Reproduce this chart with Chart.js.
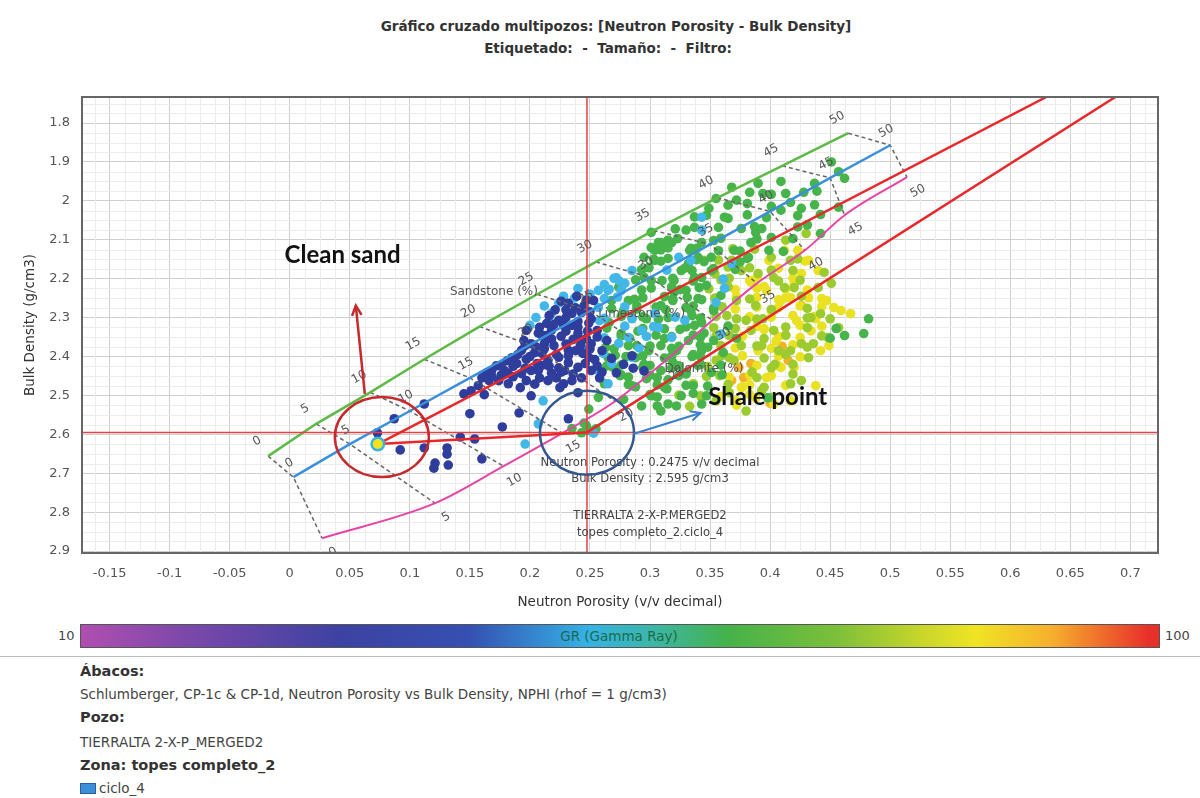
<!DOCTYPE html>
<html>
<head>
<meta charset="utf-8">
<script src="https://cdn.jsdelivr.net/npm/chart.js@4.4.1/dist/chart.umd.min.js"></script>
<style>
  body { margin: 0; background: #fff; width: 1200px; height: 798px; overflow: hidden; position: relative; font-family: "DejaVu Sans", sans-serif; color: #333; }
  #chart { position: absolute; left: 0; top: 0; }
  .t { position: absolute; white-space: nowrap; }
  .title { font-size: 13.5px; font-weight: bold; color: #333; transform: translateX(-50%); }
  #cbar { position: absolute; left: 80px; top: 624px; width: 1078px; height: 22px; border: 1px solid #555;
    background: linear-gradient(to right, #b04fb0 0%, #7a48aa 10%, #3d42a2 24%, #3550b2 36%, #35b2e6 47%, #3cb6a8 53%, #45b24a 60%, #7cbf3a 70%, #c8d62a 78%, #f0e424 83%, #f6b02e 90%, #e8302a 99%); }
  .foot { left: 80px; font-size: 13.5px; color: #444; }
  .foot.b { font-weight: bold; font-size: 14.5px; color: #333; }
</style>
</head>
<body>
<div class="t title" style="left:616px; top:18px;">Gráfico cruzado multipozos: [Neutron Porosity - Bulk Density]</div>
<div class="t title" style="left:608px; top:40px;">Etiquetado: &nbsp;- &nbsp;Tamaño: &nbsp;- &nbsp;Filtro:</div>
<canvas id="chart" width="1200" height="620"></canvas>
<div class="t" style="left:58px; top:628px; font-size:13px; color:#444;">10</div>
<div id="cbar"></div>
<div class="t" style="left:619px; top:628px; font-size:13.5px; color:#1d6b4a; transform:translateX(-50%);">GR (Gamma Ray)</div>
<div class="t" style="left:1165px; top:628px; font-size:13px; color:#444;">100</div>
<div style="position:absolute; left:0; top:656px; width:1200px; height:1px; background:#bbb;"></div>
<div class="t foot b" style="top:663px;">Ábacos:</div>
<div class="t foot" style="top:686px;">Schlumberger, CP-1c &amp; CP-1d, Neutron Porosity vs Bulk Density, NPHI (rhof = 1 g/cm3)</div>
<div class="t foot b" style="top:709px;">Pozo:</div>
<div class="t foot" style="top:734px;">TIERRALTA 2-X-P_MERGED2</div>
<div class="t foot b" style="top:757px;">Zona: topes completo_2</div>
<div style="position:absolute; left:80px; top:783px; width:14px; height:9px; background:#3a8fd8; border:1px solid #2a5f9a;"></div>
<div class="t foot" style="left:99px; top:780px;">ciclo_4</div>

<script>
// axes
const X_MIN = -0.173, X_MAX = 0.723;
const Y_MIN = 1.733, Y_MAX = 2.905;
const X_TICKS = [-0.15, -0.1, -0.05, 0, 0.05, 0.1, 0.15, 0.2, 0.25, 0.3, 0.35, 0.4, 0.45, 0.5, 0.55, 0.6, 0.65, 0.7];
const Y_TICKS = [1.8, 1.9, 2, 2.1, 2.2, 2.3, 2.4, 2.5, 2.6, 2.7, 2.8, 2.9];

// chart lines (porosity 0..50 %)
const POR_LABELS = [0, 5, 10, 15, 20, 25, 30, 35, 40, 45, 50];
const SS_NPHI = [-0.018, 0.022, 0.067, 0.112, 0.158, 0.206, 0.255, 0.303, 0.356, 0.410, 0.465];
const SS_RHOB = [2.656, 2.573, 2.492, 2.407, 2.323, 2.240, 2.157, 2.076, 1.992, 1.910, 1.826];
const LS_NPHI = [0.003, 0.05, 0.10, 0.15, 0.20, 0.25, 0.30, 0.35, 0.40, 0.45, 0.50];
const LS_RHOB = [2.710, 2.625, 2.540, 2.455, 2.370, 2.283, 2.197, 2.112, 2.027, 1.941, 1.857];
const DOL_NPHI = [0.027, 0.121, 0.178, 0.227, 0.271, 0.313, 0.352, 0.389, 0.429, 0.462, 0.514];
const DOL_RHOB = [2.867, 2.777, 2.682, 2.597, 2.515, 2.410, 2.307, 2.212, 2.127, 2.037, 1.939];

// crossplot cursor, clean sand, shale lines
const CURSOR_NPHI = 0.2475, CURSOR_RHOB = 2.595;
const CLEAN_NPHI = 0.0733, CLEAN_RHOB = 2.625;
const SHALE_LINE_A_X = [0.0733, 0.630];
const SHALE_LINE_A_Y = [2.625, 1.733];
const SHALE_LINE_B_X = [0.2475, 0.6875];
const SHALE_LINE_B_Y = [2.595, 1.733];
const CLEAN_SHALE_X = [0.0733, 0.2475];
const CLEAN_SHALE_Y = [2.625, 2.595];

// samples grouped by GR colour
const DARK_X = [0.112,0.087,0.092,0.112,0.131,0.131,0.121,0.120,0.132,0.145,0.162,0.157,0.150,0.177,0.142,0.154,0.160,0.191,0.201,0.232,0.225,0.240,0.073,
  0.160,0.168,0.166,0.182,0.185,0.193,0.201,0.212,0.207,0.218,0.224,0.235,0.232,0.240,0.243,0.232,0.224,0.215,0.207,0.218,
  0.229,0.240,0.249,0.251,0.249,0.221,0.201,0.193,0.179,0.174,0.204,0.215,0.235,0.243,0.189,0.197,0.210,0.226,0.236,0.214,
  0.226,0.239,0.245,0.251,0.256,0.260,0.256,0.197,0.264,0.272,0.285,0.295,
  0.181,0.195,0.204,0.214,0.220,0.228,0.238,0.247,0.235,0.243,0.253,0.210,0.224,0.232,0.251,0.172,0.164,0.151,
  0.186,0.196,0.206,0.216,0.226,0.236,0.246,0.176,0.186,0.197,0.208,0.222,0.228,0.190,0.200,0.212,0.222,0.232,0.244,0.254,
  0.205,0.196,0.218,0.230,0.242,0.250,0.210,0.220,0.230,0.240,0.248,0.256,0.230,0.240,0.250,0.216,0.208,0.238,0.247,0.230,
  0.176,0.168,0.182,0.192,0.260,0.258,0.268,0.278,0.286];
const DARK_Y = [2.522,2.560,2.640,2.635,2.635,2.651,2.674,2.687,2.679,2.496,2.498,2.475,2.547,2.581,2.607,2.612,2.663,2.545,2.501,2.560,2.480,2.493,2.596,
  2.455,2.437,2.462,2.444,2.403,2.384,2.367,2.367,2.340,2.332,2.307,2.289,2.263,2.325,2.358,2.384,2.402,2.410,2.436,2.443,
  2.436,2.428,2.402,2.367,2.314,2.280,2.436,2.444,2.437,2.462,2.471,2.462,2.462,2.455,2.418,2.407,2.392,2.348,2.356,2.315,
  2.258,2.245,2.270,2.303,2.333,2.385,2.424,2.333,2.359,2.442,2.398,2.437,
  2.411,2.359,2.390,2.346,2.372,2.320,2.385,2.354,2.320,2.287,2.256,2.423,2.429,2.416,2.436,2.424,2.442,2.488,
  2.425,2.430,2.418,2.425,2.440,2.445,2.418,2.448,2.452,2.462,2.455,2.455,2.470,2.395,2.400,2.380,2.395,2.398,2.392,2.408,
  2.375,2.372,2.355,2.368,2.372,2.380,2.345,2.318,2.335,2.340,2.335,2.350,2.300,2.310,2.285,2.295,2.325,2.275,2.255,2.280,
  2.425,2.450,2.470,2.480,2.440,2.455,2.405,2.420,2.430];

const CYAN_X = [0.207,0.196,0.211,0.218,0.224,0.237,0.257,0.270,0.279,0.257,0.216,0.261,0.268,0.274,0.282,0.293,0.307,0.318,0.329,0.285,
  0.265,0.304,0.343,0.343,0.334,0.324,0.285,0.274,0.265,0.276,0.257,0.247,0.258,0.361,0.362,0.355,0.368,0.359,0.253,
  0.272,0.266,0.262,0.273,0.279,0.262,0.285,0.321,0.279,0.303,0.262,0.297,0.291,0.314,0.205,0.212,0.228,0.240,0.250,0.262,0.200];
const CYAN_Y = [2.573,2.625,2.514,2.289,2.263,2.250,2.230,2.199,2.212,2.274,2.307,2.392,2.418,2.366,2.351,2.333,2.325,2.351,2.307,2.402,
  2.470,2.289,2.042,2.075,2.153,2.145,2.179,2.205,2.230,2.230,2.436,2.372,2.308,2.201,2.225,2.261,2.161,2.342,2.597,
  2.198,2.227,2.251,2.247,2.272,2.302,2.303,2.299,2.322,2.323,2.352,2.348,2.378,2.178,2.300,2.270,2.245,2.225,2.240,2.215,2.320];

const GREEN_X = [0.301,0.307,0.304,0.295,0.315,0.299,0.320,0.334,0.343,0.274,0.282,0.301,0.368,0.372,0.390,0.394,0.355,0.349,0.413,0.428,
  0.417,0.426,0.409,0.451,0.462,0.457,0.362,0.376,0.388,0.401,0.384,0.370,0.382,0.399,0.442,0.330,0.365,0.357,0.318,0.309,
  0.301,0.304,0.340,0.351,0.332,0.326,0.337,0.351,0.268,0.278,0.289,0.297,0.309,0.319,0.330,0.340,0.347,0.334,0.343,0.353,
  0.359,0.266,0.276,0.289,0.299,0.309,0.322,0.332,0.343,0.353,0.361,0.264,0.275,0.285,0.297,0.309,0.319,0.330,0.340,0.351,
  0.301,0.314,0.326,0.336,0.347,0.293,0.309,0.322,0.343,0.235,0.245,0.249,0.249,0.243,0.255,0.247,0.398,0.482,0.478,0.462,
  0.285,0.315,0.325,0.305,0.280,0.295,0.335,0.290,0.270,0.315,0.262,0.278,0.257,0.320,0.345,
  0.288,0.295,0.310,0.319,0.336,0.343,
  0.276,0.293,0.301,0.318,0.325,0.341,
  0.287,0.294,0.312,0.319,0.331,0.343,
  0.268,0.289,0.305,0.313,0.330,0.336,0.353,
  0.276,0.294,0.307,0.335,0.342,
  0.264,0.294,0.312,0.330,0.337,0.365,0.455,
  0.276,0.283,0.312,0.318,0.336,0.342,0.372,0.450,
  0.263,0.282,0.300,0.318,0.324,0.342,0.348,
  0.265,0.271,0.288,0.294,0.312,0.318,0.336,0.342,
  0.269,0.276,0.294,0.300,0.318,0.324,0.342,0.359,
  0.276,0.282,0.300,0.306,0.324,0.330,0.360,
  0.282,0.288,0.306,0.312,0.330,0.348,
  0.300,0.306,0.336,
  0.306,0.315,
  0.293,0.299,0.329,0.335,0.353,0.371,
  0.303,0.309,0.339,0.345,0.375,0.381,
  0.309,0.315,0.333,0.339,0.357,0.375,0.411,
  0.315,0.323,0.353,0.359,0.389,0.419,
  0.321,0.337,0.387,0.393,0.423,0.431,
  0.337,0.347,0.381,0.397,0.423,0.442,
  0.365,0.381,0.401,0.437,
  0.383,0.401,0.439,
  0.409,0.437,0.457];
const GREEN_Y = [2.081,2.107,2.127,2.145,2.148,2.171,2.205,2.122,2.107,2.222,2.256,2.205,1.965,1.998,1.955,1.981,1.994,2.019,1.981,1.978,
  2.004,2.019,2.024,1.900,1.942,2.016,2.042,2.071,2.081,2.094,2.107,2.127,2.145,2.127,2.084,2.075,2.045,2.068,2.107,2.107,
  2.120,2.153,2.145,2.145,2.161,2.179,2.197,2.179,2.256,2.282,2.269,2.303,2.269,2.256,2.230,2.251,2.217,2.282,2.313,2.282,
  2.243,2.313,2.341,2.372,2.385,2.372,2.385,2.359,2.385,2.359,2.390,2.424,2.449,2.475,2.457,2.436,2.415,2.441,2.423,2.441,
  2.501,2.483,2.501,2.475,2.501,2.527,2.540,2.527,2.522,2.585,2.571,2.535,2.590,2.596,2.586,2.578,2.506,2.303,2.341,2.346,
  2.300,2.300,2.330,2.345,2.400,2.420,2.400,2.335,2.380,2.460,2.470,2.510,2.505,2.235,2.340,
  2.203,2.196,2.205,2.199,2.206,2.197,
  2.222,2.229,2.224,2.221,2.228,2.223,
  2.253,2.249,2.246,2.252,2.248,2.254,
  2.277,2.278,2.273,2.279,2.274,2.270,2.276,
  2.297,2.298,2.304,2.295,2.301,
  2.327,2.328,2.329,2.324,2.320,2.322,2.328,
  2.347,2.353,2.354,2.349,2.345,2.351,2.353,2.353,
  2.377,2.372,2.373,2.379,2.374,2.370,2.376,
  2.402,2.397,2.403,2.398,2.404,2.399,2.395,2.401,
  2.427,2.422,2.428,2.423,2.429,2.424,2.420,2.422,
  2.447,2.453,2.448,2.454,2.449,2.445,2.447,
  2.472,2.478,2.473,2.479,2.474,2.476,
  2.498,2.504,2.495,
  2.527,2.522,
  2.177,2.172,2.173,2.179,2.174,2.176,
  2.150,2.155,2.151,2.156,2.157,2.148,
  2.126,2.121,2.127,2.122,2.128,2.129,2.130,
  2.101,2.097,2.102,2.096,2.098,2.097,
  2.072,2.068,2.066,2.071,2.067,2.062,
  2.041,2.037,2.036,2.043,2.038,2.035,
  2.011,2.007,2.014,2.010,
  1.978,1.983,1.975,
  1.950,1.955,1.925];

const LIME_X = [0.430,0.401,0.417,0.403,0.390,0.376,0.368,0.354,0.345,0.412,0.440,0.451,0.445,0.442,0.434,0.457,0.448,0.436,0.426,0.407,
  0.417,0.432,0.404,0.426,0.417,0.393,0.364,0.372,0.380,0.388,0.366,0.376,0.384,0.394,0.403,0.393,0.358,0.366,0.380,0.355,
  0.370,0.385,0.355,
  0.359,0.366,0.407,0.425,0.349,0.365,0.420,0.354,0.383,0.426,0.360,0.401,0.431,0.355,0.372,0.389,0.431,0.450,0.353,0.371,
  0.413,0.431,0.355,0.395,0.413,0.443,0.359,0.389,0.431,0.360,0.366,0.395,0.413,0.348,0.401,0.419,0.347,0.389,0.419,0.336,
  0.365,0.395,0.324,0.342,0.401,0.333,0.365,0.383,0.401,0.419,0.357,0.423,0.369,0.387,0.413];
const LIME_Y = [2.084,2.145,2.153,2.197,2.187,2.179,2.153,2.187,2.153,2.223,2.223,2.212,2.184,2.290,2.300,2.326,2.351,2.367,2.367,2.385,
  2.385,2.403,2.420,2.462,2.470,2.488,2.295,2.256,2.307,2.269,2.346,2.372,2.333,2.303,2.333,2.372,2.449,2.493,2.540,2.514,
  2.410,2.440,2.410,
  2.203,2.199,2.206,2.204,2.226,2.221,2.223,2.250,2.252,2.245,2.272,2.279,2.276,2.297,2.303,2.304,2.301,2.303,2.326,2.328,
  2.324,2.326,2.347,2.354,2.345,2.347,2.372,2.373,2.376,2.397,2.403,2.404,2.395,2.426,2.429,2.420,2.451,2.454,2.445,2.470,
  2.472,2.479,2.499,2.501,2.505,2.528,2.170,2.172,2.178,2.179,2.152,2.149,2.123,2.124,2.101];

const YELLOW_X = [0.423,0.412,0.426,0.432,0.440,0.453,0.467,0.432,0.417,0.390,0.420,0.409,0.422,0.434,0.397,0.384,0.401,0.442,0.413,0.376,
  0.388,0.397,0.409,0.372,0.417,0.438,0.447,0.459,0.438,0.405,0.395,0.420,
  0.383,0.389,0.419,0.371,0.389,0.395,0.413,0.431,0.372,0.389,0.407,0.413,0.443,0.371,0.389,0.407,0.425,0.443,0.383,0.401,
  0.419,0.437,0.389,0.395,0.425,0.443,0.377,0.407,0.425,0.371,0.401,0.419,0.449,0.377,0.407,0.425,0.389,0.407,0.366,0.383,
  0.401,0.377,0.383,0.413,0.359,0.383,0.372,0.403,0.407,0.399,0.429];
const YELLOW_Y = [2.127,2.127,2.187,2.153,2.179,2.274,2.290,2.249,2.249,2.385,2.428,2.256,2.308,2.334,2.230,2.209,2.282,2.385,2.346,2.480,
  2.506,2.454,2.428,2.514,2.514,2.475,2.256,2.282,2.303,2.360,2.330,2.215,
  2.205,2.197,2.199,2.228,2.224,2.220,2.227,2.229,2.246,2.248,2.254,2.249,2.251,2.278,2.273,2.274,2.270,2.272,2.298,2.299,
  2.295,2.297,2.323,2.329,2.320,2.322,2.348,2.349,2.351,2.378,2.379,2.370,2.372,2.398,2.399,2.401,2.423,2.424,2.453,2.448,
  2.449,2.478,2.473,2.474,2.503,2.498,2.525,2.522,2.173,2.153,2.155];

const ORANGE_X = [0.415, 0.384, 0.378, 0.368, 0.426, 0.400, 0.410, 0.374];
const ORANGE_Y = [2.410, 2.418, 2.454, 2.462, 2.269, 2.520, 2.374, 2.428];

const pts = (xs, ys) => xs.map((x, i) => ({ x, y: ys[i] }));

function scatterSet(xs, ys, color) {
  return { data: pts(xs, ys), backgroundColor: color, borderWidth: 0, pointRadius: 4.8, order: 20 };
}
function lineSet(xs, ys, color, width, order, extra) {
  return Object.assign({ data: pts(xs, ys), showLine: true, borderColor: color, borderWidth: width,
    pointRadius: 0, fill: false, order }, extra || {});
}

const datasets = [
  scatterSet(DARK_X, DARK_Y, "#2f3d9c"),
  scatterSet(CYAN_X, CYAN_Y, "#43b7e8"),
  scatterSet(GREEN_X, GREEN_Y, "#46b34b"),
  scatterSet(LIME_X, LIME_Y, "#9ccb30"),
  scatterSet(YELLOW_X, YELLOW_Y, "#e9e122"),
  scatterSet(ORANGE_X, ORANGE_Y, "#f2b128"),
  lineSet(SS_NPHI, SS_RHOB, "#5cba46", 2.5, 5),
  lineSet(LS_NPHI, LS_RHOB, "#3a90da", 2.5, 5),
  lineSet(DOL_NPHI, DOL_RHOB, "#e645a6", 2, 5, { cubicInterpolationMode: "monotone" }),
  lineSet([X_MIN, X_MAX], [CURSOR_RHOB, CURSOR_RHOB], "#ea4040", 1.5, 4),
  lineSet([CURSOR_NPHI, CURSOR_NPHI], [Y_MIN, Y_MAX], "#ea4040", 1.5, 4),
  lineSet(SHALE_LINE_A_X, SHALE_LINE_A_Y, "#e8282a", 2.5, 3),
  lineSet(SHALE_LINE_B_X, SHALE_LINE_B_Y, "#e8282a", 2.5, 3),
  lineSet(CLEAN_SHALE_X, CLEAN_SHALE_Y, "#e8282a", 2.5, 3),
  { data: [{ x: CLEAN_NPHI, y: CLEAN_RHOB }], backgroundColor: "#37b4e6", pointRadius: 7.5, borderWidth: 0, order: 1 },
  { data: [{ x: CLEAN_NPHI, y: CLEAN_RHOB }], backgroundColor: "#f2e21c", pointRadius: 5, borderWidth: 0, order: 0 },
  { data: [{ x: CLEAN_NPHI, y: CLEAN_RHOB }], backgroundColor: "#e8402a", pointRadius: 2.2, borderWidth: 0, order: 0 },
];

// dashed porosity iso-lines: sandstone -> limestone -> dolomite
POR_LABELS.forEach((p, i) => {
  datasets.push(lineSet([SS_NPHI[i], LS_NPHI[i], DOL_NPHI[i]], [SS_RHOB[i], LS_RHOB[i], DOL_RHOB[i]],
    "#666", 1.5, 6, { borderDash: [4, 3] }));
});

function rotText(ctx, text, x, y, ang) {
  ctx.save();
  ctx.translate(x, y);
  ctx.rotate(ang);
  ctx.fillText(text, 0, 0);
  ctx.restore();
}

function arrow(ctx, x1, y1, x2, y2, color, w) {
  ctx.strokeStyle = color;
  ctx.lineWidth = w;
  ctx.beginPath();
  ctx.moveTo(x1, y1);
  ctx.lineTo(x2, y2);
  ctx.stroke();
  const a = Math.atan2(y2 - y1, x2 - x1), h = 11;
  ctx.beginPath();
  ctx.moveTo(x2 - h * Math.cos(a - 0.45), y2 - h * Math.sin(a - 0.45));
  ctx.lineTo(x2, y2);
  ctx.lineTo(x2 - h * Math.cos(a + 0.45), y2 - h * Math.sin(a + 0.45));
  ctx.stroke();
}

const overlay = {
  id: "overlay",
  beforeDatasetsDraw(chart) {
    const { ctx, chartArea: a, scales: { x, y } } = chart;
    ctx.save();
    ctx.strokeStyle = "#ececec";
    ctx.lineWidth = 1;
    for (let k = -0.175; k <= X_MAX; k += 0.0125) {
      if (Math.abs(k / 0.05 - Math.round(k / 0.05)) < 1e-6) continue;
      const px = Math.round(x.getPixelForValue(k)) + 0.5;
      if (px <= a.left || px >= a.right) continue;
      ctx.beginPath(); ctx.moveTo(px, a.top); ctx.lineTo(px, a.bottom); ctx.stroke();
    }
    for (let k = 1.725; k <= Y_MAX; k += 0.025) {
      if (Math.abs(k / 0.1 - Math.round(k / 0.1)) < 1e-6) continue;
      const py = Math.round(y.getPixelForValue(k)) + 0.5;
      if (py <= a.top || py >= a.bottom) continue;
      ctx.beginPath(); ctx.moveTo(a.left, py); ctx.lineTo(a.right, py); ctx.stroke();
    }
    ctx.restore();
  },
  afterDatasetsDraw(chart) {
    const { ctx, chartArea: a, scales: { x, y } } = chart;
    const X = (v) => x.getPixelForValue(v);
    const Y = (v) => y.getPixelForValue(v);
    ctx.save();
    ctx.beginPath();
    ctx.rect(a.left, a.top, a.right - a.left, a.bottom - a.top);
    ctx.clip();

    // porosity labels
    ctx.font = '12px "DejaVu Sans"';
    ctx.fillStyle = "#555";
    ctx.textAlign = "center";
    ctx.textBaseline = "middle";
    const ang = -0.5;
    POR_LABELS.forEach((p, i) => {
      rotText(ctx, String(p), X(SS_NPHI[i]) - 11, Y(SS_RHOB[i]) - 15, ang);
      rotText(ctx, String(p), X(LS_NPHI[i]) - 4, Y(LS_RHOB[i]) - 14, ang);
      rotText(ctx, String(p), X(DOL_NPHI[i]) + 11, Y(DOL_RHOB[i]) + 14, ang);
    });
    ctx.fillText("Sandstone (%)", X(0.170), Y(2.233));
    ctx.fillText("Limestone (%)", X(0.293), Y(2.290));
    ctx.fillText("Dolomite (%)", X(0.345), Y(2.431));

    // cursor readout
    ctx.fillStyle = "#444";
    ctx.font = '11.6px "DejaVu Sans"';
    ctx.fillText("Neutron Porosity : 0.2475 v/v decimal", X(0.300), Y(2.674));
    ctx.fillText("Bulk Density : 2.595 g/cm3", X(0.300), Y(2.715));
    ctx.fillText("TIERRALTA 2-X-P.MERGED2", X(0.300), Y(2.810));
    ctx.fillText("topes completo_2.ciclo_4", X(0.300), Y(2.854));

    // annotations
    ctx.lineWidth = 2.5;
    ctx.strokeStyle = "#c62a2c";
    ctx.beginPath();
    ctx.ellipse(X(0.0767), Y(2.607), 47, 40, 0, 0, Math.PI * 2);
    ctx.stroke();
    ctx.strokeStyle = "#35568f";
    ctx.beginPath();
    ctx.ellipse(X(0.2475), Y(2.596), 47, 42, 0, 0, Math.PI * 2);
    ctx.stroke();
    arrow(ctx, X(0.0625), Y(2.496), X(0.055), Y(2.269), "#c62a2c", 2.5);
    arrow(ctx, X(0.286), Y(2.599), X(0.342), Y(2.545), "#3a7fd0", 2);

    ctx.fillStyle = "#111";
    ctx.font = 'bold 24px Lato, "Open Sans", sans-serif';
    ctx.fillText("Clean sand", X(0.044), Y(2.14));
    ctx.fillText("Shale point", X(0.398), Y(2.506));
    ctx.restore();

    // plot frame
    ctx.save();
    ctx.strokeStyle = "#666";
    ctx.lineWidth = 2;
    ctx.strokeRect(a.left, a.top, a.right - a.left, a.bottom - a.top);
    ctx.restore();
  },
};

const tickFont = { family: "DejaVu Sans", size: 13 };
const titleFont = { family: "DejaVu Sans", size: 13.5 };

new Chart(document.getElementById("chart"), {
  type: "scatter",
  data: { datasets },
  options: {
    responsive: false,
    animation: false,
    layout: { padding: { top: 97, right: 42, left: 0, bottom: 0 } },
    plugins: { legend: { display: false }, tooltip: { enabled: false } },
    scales: {
      x: {
        type: "linear",
        min: X_MIN,
        max: X_MAX,
        afterFit: (s) => { s.height = 67; },
        afterBuildTicks: (s) => { s.ticks = X_TICKS.map((v) => ({ value: v })); },
        ticks: { autoSkip: false, maxRotation: 0, padding: 13, color: "#555", font: tickFont, callback: (v) => String(v) },
        grid: { color: "#cfcfcf", drawTicks: false },
        border: { display: false },
        title: { display: true, text: "Neutron Porosity (v/v decimal)", color: "#333", font: titleFont, padding: { bottom: 9 } },
      },
      y: {
        type: "linear",
        reverse: true,
        min: Y_MIN,
        max: Y_MAX,
        afterFit: (s) => { s.width = 82; },
        afterBuildTicks: (s) => { s.ticks = Y_TICKS.map((v) => ({ value: v })); },
        ticks: { padding: 12, color: "#555", font: tickFont, callback: (v) => String(v) },
        grid: { color: "#cfcfcf", drawTicks: false },
        border: { display: false },
        title: { display: true, text: "Bulk Density (g/cm3)", color: "#333", font: titleFont, padding: { top: 22 } },
      },
    },
  },
  plugins: [overlay],
});
</script>
</body>
</html>
